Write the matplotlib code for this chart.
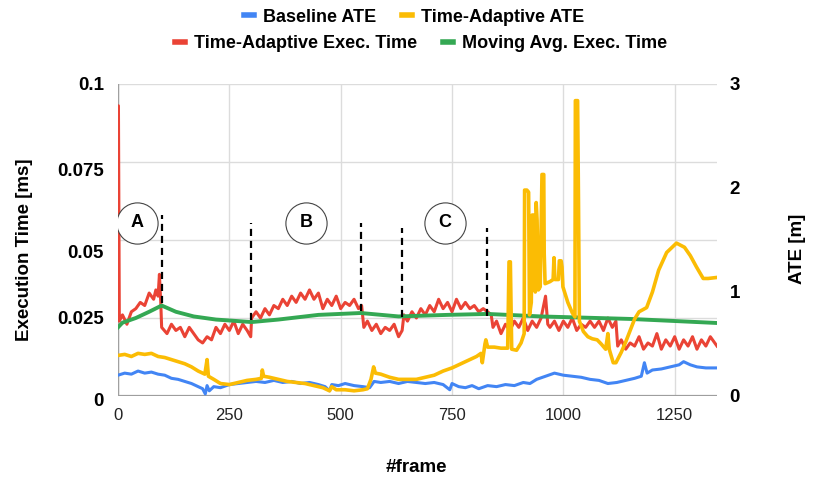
import matplotlib
matplotlib.use('Agg')
import matplotlib.pyplot as plt
import matplotlib.transforms as mtransforms
from matplotlib.lines import Line2D

plt.rcParams['font.family'] = ['Liberation Sans', 'DejaVu Sans']

# time-adaptive execution time [ms]
red_frames = [0, 1, 3, 10, 20, 30, 40, 50, 60, 70, 80, 85, 90, 93, 96, 98,
              110, 120, 130, 140, 150, 160, 170, 180, 190, 200, 210, 220, 230, 240,
              250, 260, 270, 280, 290, 298, 300, 310, 320, 330, 340, 350, 360, 370,
              380, 390, 400, 410, 420, 430, 440, 450, 460, 470, 480, 490, 500, 510,
              520, 530, 540, 547, 552, 560, 570, 580, 590, 600, 610, 620, 630, 638,
              642, 650, 660, 670, 680, 690, 700, 710, 720, 730, 740, 750, 760, 770,
              780, 790, 800, 810, 820, 830, 838, 842, 850, 860, 870, 880, 890, 900,
              910, 920, 930, 940, 950, 960, 965, 970, 980, 990, 1000, 1010, 1020,
              1030, 1040, 1050, 1060, 1070, 1080, 1090, 1100, 1110, 1118, 1122, 1130,
              1140, 1150, 1160, 1170, 1180, 1190, 1200, 1210, 1220, 1230, 1240, 1250,
              1260, 1270, 1280, 1290, 1300, 1310, 1320, 1330, 1345]
red_exec = [0.093, 0.093, 0.024, 0.026, 0.023, 0.027, 0.028, 0.030, 0.029, 0.033, 0.031,
            0.034, 0.032, 0.039, 0.030, 0.022,
            0.020, 0.023, 0.021, 0.022, 0.019, 0.022, 0.020, 0.018, 0.017, 0.019, 0.018,
            0.022, 0.020, 0.023, 0.021, 0.024, 0.020, 0.023, 0.021, 0.019, 0.025, 0.027,
            0.025, 0.028, 0.026, 0.029, 0.028, 0.031, 0.029, 0.032, 0.030, 0.033, 0.031,
            0.034, 0.031, 0.033, 0.028, 0.031, 0.029, 0.032, 0.028, 0.030, 0.029, 0.031,
            0.028, 0.029, 0.022, 0.024, 0.021, 0.023, 0.020, 0.022, 0.021, 0.023, 0.019,
            0.021, 0.026, 0.024, 0.027, 0.025, 0.028, 0.026, 0.029, 0.027, 0.031, 0.028,
            0.030, 0.027, 0.031, 0.028, 0.030, 0.028, 0.029, 0.027, 0.028, 0.027, 0.026,
            0.022, 0.024, 0.020, 0.023, 0.021, 0.024, 0.022, 0.025, 0.021, 0.024, 0.022,
            0.025, 0.032, 0.023, 0.022, 0.024, 0.021, 0.024, 0.022, 0.025, 0.021, 0.023,
            0.022, 0.024, 0.022, 0.024, 0.021, 0.025, 0.022, 0.024, 0.016, 0.018, 0.015,
            0.017, 0.016, 0.019, 0.015, 0.017, 0.016, 0.020, 0.015, 0.018, 0.016, 0.019,
            0.015, 0.018, 0.016, 0.019, 0.015, 0.018, 0.016, 0.019, 0.016]

# moving average of the execution time [ms]
green_frames = [0, 10, 40, 70, 98, 130, 170, 220, 300, 360, 450, 545, 630, 740, 830,
                950, 1150, 1345]
green_exec = [0.022, 0.0235, 0.025, 0.027, 0.029, 0.027, 0.0255, 0.0245, 0.0237, 0.0245,
              0.026, 0.0266, 0.0255, 0.026, 0.0263, 0.0255, 0.0247, 0.0234]

# baseline ATE [m]
blue_frames = [0, 15, 30, 45, 60, 75, 90, 105, 120, 135, 150, 165, 180, 190, 196, 200,
               205, 215, 230, 250, 270, 290, 310, 330, 350, 370, 390, 410, 430, 450,
               465, 475, 480, 495, 510, 530, 550, 565, 575, 590, 610, 630, 650, 670,
               690, 710, 730, 745, 750, 765, 780, 795, 810, 830, 850, 870, 890, 910,
               925, 940, 960, 980, 1000, 1020, 1040, 1060, 1080, 1100, 1120, 1140,
               1160, 1175, 1182, 1188, 1200, 1220, 1240, 1260, 1270, 1285, 1300, 1320,
               1345]
blue_ate = [0.20, 0.22, 0.21, 0.24, 0.22, 0.23, 0.21, 0.20, 0.17, 0.16, 0.14, 0.12, 0.09,
            0.07, 0.02, 0.10, 0.05, 0.09, 0.08, 0.11, 0.12, 0.13, 0.14, 0.13, 0.15, 0.13,
            0.14, 0.12, 0.13, 0.11, 0.09, 0.05, 0.11, 0.10, 0.12, 0.10, 0.09, 0.08, 0.14,
            0.13, 0.14, 0.12, 0.14, 0.13, 0.12, 0.13, 0.11, 0.06, 0.12, 0.09, 0.08, 0.10,
            0.07, 0.10, 0.09, 0.11, 0.10, 0.13, 0.12, 0.16, 0.19, 0.22, 0.20, 0.19, 0.18,
            0.16, 0.15, 0.12, 0.13, 0.15, 0.17, 0.19, 0.32, 0.22, 0.25, 0.26, 0.28, 0.30,
            0.33, 0.30, 0.28, 0.27, 0.27]

# time-adaptive ATE [m]
yellow_frames = [0, 15, 30, 45, 60, 75, 90, 105, 120, 135, 150, 165, 180, 195, 200, 203,
                 215, 230, 250, 270, 290, 310, 322, 324, 327, 340, 360, 380, 400, 420,
                 440, 460, 475, 480, 490, 510, 530, 550, 560, 568, 574, 578, 590, 610,
                 630, 650, 670, 690, 710, 730, 750, 770, 790, 805, 815, 818, 824, 826,
                 830, 845, 860, 875, 878, 881, 884, 895, 905, 912, 913, 918, 922, 924,
                 928, 930, 935, 937, 939, 941, 944, 948, 952, 956, 957, 959, 970, 977,
                 979, 981, 989, 991, 995, 997, 999, 1010, 1020, 1026, 1027, 1032, 1034,
                 1036, 1045, 1055, 1065, 1076, 1085, 1095, 1100, 1103, 1112, 1118, 1130,
                 1140, 1150, 1160, 1170, 1187, 1200, 1214, 1232, 1254, 1272, 1285, 1299,
                 1314, 1325, 1345]
yellow_ate = [0.39, 0.40, 0.38, 0.41, 0.40, 0.41, 0.38, 0.37, 0.35, 0.33, 0.31, 0.28, 0.24,
              0.21, 0.35, 0.19, 0.16, 0.12, 0.11, 0.13, 0.15, 0.16, 0.17, 0.25, 0.19, 0.18,
              0.16, 0.14, 0.13, 0.12, 0.10, 0.08, 0.05, 0.09, 0.06, 0.06, 0.05, 0.06, 0.07,
              0.16, 0.28, 0.22, 0.21, 0.18, 0.16, 0.16, 0.16, 0.18, 0.20, 0.24, 0.27, 0.31,
              0.35, 0.38, 0.41, 0.32, 0.50, 0.54, 0.47, 0.47, 0.46, 0.46, 1.29, 1.29, 0.45,
              0.44, 0.51, 0.60, 1.98, 1.98, 1.96, 0.78, 0.90, 1.74, 1.74, 1.00, 1.86, 1.69,
              1.02, 1.05, 2.13, 2.13, 1.37, 1.08, 1.10, 1.12, 1.33, 1.12, 1.12, 1.30, 1.30,
              1.24, 1.05, 0.90, 0.80, 0.76, 2.84, 2.84, 1.86, 0.72, 0.62, 0.57, 0.55, 0.54,
              0.50, 0.45, 0.60, 0.45, 0.32, 0.32, 0.42, 0.52, 0.63, 0.74, 0.81, 0.85, 1.00,
              1.21, 1.38, 1.47, 1.43, 1.35, 1.24, 1.13, 1.13, 1.14]

# phase markers
phase_labels = ['A', 'B', 'C']
phase_frames = [42, 423, 734]
phase_exec = 0.0555
split_frames = [98, 299, 545, 638, 828]
split_low = [0.0298, 0.0244, 0.0272, 0.0253, 0.0256]
split_high = [0.0580, 0.0554, 0.0554, 0.0538, 0.0538]

exec_ticks = [0, 0.025, 0.05, 0.075, 0.1]
exec_tick_labels = ['0', '0.025', '0.05', '0.075', '0.1']
ate_ticks = [0, 1, 2, 3]
frame_ticks = [0, 250, 500, 750, 1000, 1250]

BLUE = '#4285F4'
YELLOW = '#FBBC04'
RED = '#EA4335'
GREEN = '#34A853'

fig = plt.figure(figsize=(8.15, 4.83), dpi=100)
ax = fig.add_axes([118 / 815, 1 - 396 / 483, 599 / 815, 312 / 483])
ax2 = ax.twinx()

ax.plot(red_frames, red_exec, color=RED, linewidth=2.2, zorder=3)
ax.plot(green_frames, green_exec, color=GREEN, linewidth=2.8, zorder=4)
ax2.plot(blue_frames, blue_ate, color=BLUE, linewidth=2.2)
ax2.plot(yellow_frames, yellow_ate, color=YELLOW, linewidth=2.6)

ax.vlines(split_frames, split_low, split_high, colors='black', linestyles=(0, (3.2, 2.2)),
          linewidth=1.6, zorder=6)
ax.scatter(phase_frames, [phase_exec] * len(phase_frames), s=880, facecolors='white',
           edgecolors='#444444', linewidths=0.8, zorder=7)
for lab, fr in zip(phase_labels, phase_frames):
    ax.text(fr, phase_exec, lab, ha='center', va='center', fontsize=13,
            fontweight='bold', zorder=8)

ax.set_xlim(0, 1345)
ax.set_ylim(0, 0.1)
ax2.set_ylim(0, 3)

ax.set_xticks(frame_ticks)
ax.set_yticks(exec_ticks)
ax.set_yticklabels(exec_tick_labels)
ax2.set_yticks(ate_ticks)
ax.grid(True, color='#dcdcdc', linewidth=1.0)
ax.set_axisbelow(True)

for a in (ax, ax2):
    for side in ('top', 'right', 'left', 'bottom'):
        a.spines[side].set_visible(False)
ax.axhline(0, color='#9e9e9e', linewidth=1.6, zorder=2)
ax.axvline(0, color='#a0a0a0', linewidth=1.0, zorder=2)

ax.tick_params(axis='x', length=0, pad=9, labelsize=12, labelcolor='#222222')
ax.tick_params(axis='y', length=0, pad=10, labelsize=13.5)
ax2.tick_params(axis='y', length=0, pad=9, labelsize=13.5)
for t in ax.get_yticklabels() + ax2.get_yticklabels():
    t.set_fontweight('bold')

# left tick labels sit a little off their gridlines in the reference
shift_px = [-4, 0, -12, -8, 0]
for t, dy in zip(ax.get_yticklabels(), shift_px):
    t.set_transform(t.get_transform() +
                    mtransforms.ScaledTranslation(0, dy / 100, fig.dpi_scale_trans))

fig.text(25 / 815, 1 - 250 / 483, 'Execution Time [ms]', rotation=90, ha='center',
         va='center', fontsize=13.5, fontweight='bold')
fig.text(797 / 815, 1 - 249 / 483, 'ATE [m]', rotation=90, ha='center', va='center',
         fontsize=13.5, fontweight='bold')
fig.text(416 / 815, 1 - 467 / 483, '#frame', ha='center', va='center', fontsize=13.5,
         fontweight='bold')

legend_kw = dict(frameon=False, ncol=2, handlelength=0.55, handletextpad=0.5,
                 columnspacing=1.4, borderpad=0, prop={'size': 13, 'weight': 'bold'},
                 loc='center')
row1 = [Line2D([], [], color=BLUE, linewidth=4), Line2D([], [], color=YELLOW, linewidth=4)]
row2 = [Line2D([], [], color=RED, linewidth=4), Line2D([], [], color=GREEN, linewidth=4)]
fig.legend(row1, ['Baseline ATE', 'Time-Adaptive ATE'], bbox_to_anchor=(414 / 815, 1 - 17 / 483),
           **legend_kw)
fig.legend(row2, ['Time-Adaptive Exec. Time', 'Moving Avg. Exec. Time'],
           bbox_to_anchor=(421 / 815, 1 - 44 / 483), **legend_kw)

fig.savefig('out.png', dpi=100)
